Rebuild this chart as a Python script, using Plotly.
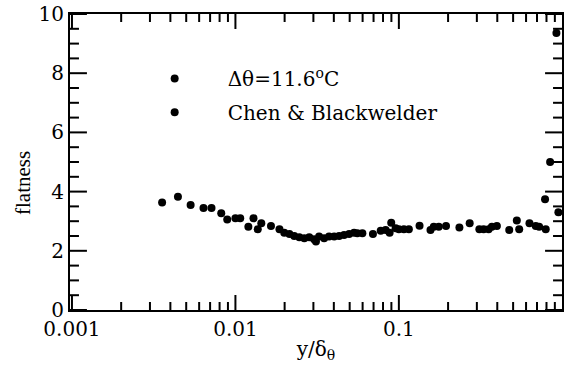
import plotly.graph_objects as go

# y/δθ and flatness values
x_this = [0.00356, 0.00445, 0.00532, 0.00638, 0.00714, 0.00819, 0.00891, 0.0100, 0.0107,
          0.0120, 0.0129, 0.0137, 0.0144, 0.0165, 0.0186, 0.0199, 0.0214, 0.0229, 0.0246,
          0.0264, 0.0283, 0.0303, 0.0311, 0.0325, 0.0349, 0.0374, 0.0402, 0.0431, 0.0462,
          0.0496, 0.0532, 0.0557, 0.0598, 0.0694, 0.0774, 0.0830, 0.0878, 0.0898, 0.0955,
          0.1000, 0.1073, 0.1151, 0.1338, 0.1561, 0.1635, 0.1754, 0.1943, 0.2346, 0.2711,
          0.3107, 0.3300, 0.3540, 0.3707, 0.3977, 0.4733, 0.5267, 0.5447, 0.6295, 0.6878,
          0.7214, 0.7914]
f_this = [3.63, 3.83, 3.55, 3.45, 3.45, 3.27, 3.06, 3.10, 3.10,
          2.81, 3.10, 2.73, 2.93, 2.84, 2.73, 2.61, 2.57, 2.50, 2.46,
          2.42, 2.46, 2.39, 2.31, 2.48, 2.42, 2.48, 2.48, 2.50, 2.53,
          2.57, 2.61, 2.59, 2.59, 2.57, 2.68, 2.70, 2.61, 2.95, 2.76,
          2.73, 2.73, 2.73, 2.85, 2.70, 2.81, 2.81, 2.84, 2.79, 2.93,
          2.73, 2.73, 2.73, 2.81, 2.84, 2.70, 3.02, 2.73, 2.93, 2.84,
          2.81, 2.73]

x_chen = [0.784, 0.842, 0.920, 0.946]
f_chen = [3.74, 5.00, 9.36, 3.30]

name_this = "Δθ=11.6<sup>o</sup>C"
name_chen = "Chen &amp; Blackwelder"

# tick values
x_major = [0.001, 0.01, 0.1]
x_major_text = ["0.001", "0.01", "0.1"]
x_minor = [0.002, 0.003, 0.004, 0.005, 0.006, 0.007, 0.008, 0.009,
           0.02, 0.03, 0.04, 0.05, 0.06, 0.07, 0.08, 0.09,
           0.2, 0.3, 0.4, 0.5, 0.6, 0.7, 0.8, 0.9]
y_major = [0, 2, 4, 6, 8, 10]
y_minor = [0.5, 1, 1.5, 2.5, 3, 3.5, 4.5, 5, 5.5, 6.5, 7, 7.5, 8.5, 9, 9.5]

FONT = "DejaVu Serif"
TITLE_FONT = "Liberation Serif"

PLOT_W = 494.0   # plot-area size in px (564-70, 367-14-57)
PLOT_H = 296.0

fig = go.Figure()
fig.add_trace(go.Scatter(x=x_this, y=f_this, mode="markers", name=name_this,
                         marker=dict(symbol="circle", size=8, color="black"),
                         legend="legend", showlegend=True))
fig.add_trace(go.Scatter(x=x_chen, y=f_chen, mode="markers", name=name_chen,
                         marker=dict(symbol="circle", size=8, color="black"),
                         legend="legend2", showlegend=True))

fig.update_xaxes(type="log", range=[-3.012, -0.002],
                 tickmode="array", tickvals=x_major, ticktext=x_major_text,
                 showline=True, linecolor="black", linewidth=2, mirror=True,
                 ticks="", showgrid=False, zeroline=False,
                 tickfont=dict(family=FONT, size=20, color="black"),
                 title=dict(text="y/δ<sub>θ</sub>", font=dict(family=FONT, size=20, color="black"),
                            standoff=2))
fig.update_yaxes(range=[0, 10], tickmode="array", tickvals=y_major,
                 showline=True, linecolor="black", linewidth=2, mirror=True,
                 ticks="", showgrid=False, zeroline=False,
                 tickfont=dict(family=FONT, size=20, color="black"))

# inward tick marks on all four sides, placed at the tick values through the axes
tick_line = dict(color="black", width=2)
for vals, length in ((x_major, 15), (x_minor, 8)):
    for v in vals:
        fig.add_shape(type="line", xref="x", yref="paper", x0=v, x1=v,
                      y0=0, y1=length / PLOT_H, line=tick_line)
        fig.add_shape(type="line", xref="x", yref="paper", x0=v, x1=v,
                      y0=1, y1=1 - length / PLOT_H, line=tick_line)
for vals, length in ((y_major, 17), (y_minor, 9)):
    for v in vals:
        fig.add_shape(type="line", xref="paper", yref="y", x0=0, x1=length / PLOT_W,
                      y0=v, y1=v, line=tick_line)
        fig.add_shape(type="line", xref="paper", yref="y", x0=1, x1=1 - length / PLOT_W,
                      y0=v, y1=v, line=tick_line)

fig.add_annotation(text="flatness", xref="paper", yref="paper", x=-0.097, y=0.43,
                   xanchor="center", yanchor="middle",
                   textangle=-90, showarrow=False,
                   font=dict(family=TITLE_FONT, size=21, color="black"))

leg_common = dict(xanchor="left", yanchor="middle", itemwidth=96,
                  bgcolor="rgba(0,0,0,0)", borderwidth=0,
                  font=dict(family=FONT, size=20, color="black"))
fig.update_layout(
    width=564, height=367,
    margin=dict(l=70, r=0, t=14, b=57),
    paper_bgcolor="white", plot_bgcolor="white",
    showlegend=True,
    legend=dict(x=0.105, y=0.782, **leg_common),
    legend2=dict(x=0.105, y=0.668, **leg_common),
)

fig.write_html("out.html", config={"displayModeBar": False},
               post_script="document.body.style.margin='0';")
